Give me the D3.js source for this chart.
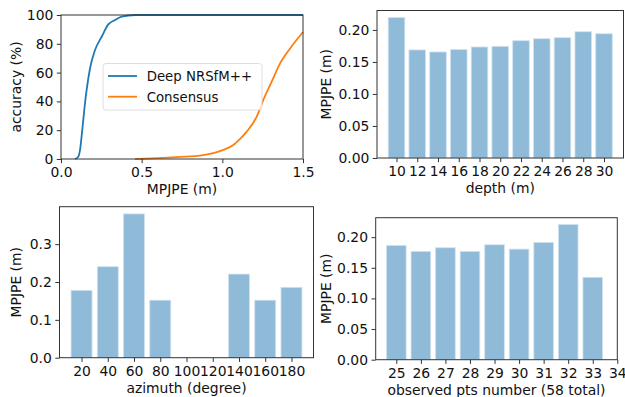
<!DOCTYPE html>
<html>
<head>
<meta charset="utf-8">
<script src="https://cdn.jsdelivr.net/npm/d3@7"></script>
<style>
  body { margin: 0; background: #fff; }
  svg, svg text { font-family: "DejaVu Sans", sans-serif; }
</style>
</head>
<body>
<svg id="fig" width="625" height="397"></svg>
<script>
// cumulative accuracy curves (MPJPE m, accuracy %)
const deepCurve = [
  [0.087, 0], [0.107, 1.6], [0.118, 6.3], [0.128, 16], [0.138, 27], [0.148, 38],
  [0.159, 48], [0.18, 63], [0.211, 75.7], [0.252, 84.9], [0.293, 93.5],
  [0.335, 96.5], [0.376, 98.8], [0.459, 100], [1.5, 100]
];
const consensusCurve = [
  [0.459, 0], [0.6, 0.6], [0.769, 1.6], [0.862, 2.3], [0.944, 4], [1.006, 6.3],
  [1.068, 9.7], [1.11, 14], [1.151, 19], [1.213, 29.4], [1.254, 41],
  [1.306, 53.7], [1.358, 66.4], [1.42, 76.8], [1.5, 88.2]
];

const depthCats = [10, 12, 14, 16, 18, 20, 22, 24, 26, 28, 30];
const depthErr = [0.2194, 0.1688, 0.1656, 0.1693, 0.1734, 0.1744, 0.1832, 0.1863, 0.1879, 0.1972, 0.1941];

const azimuthCats = [20, 40, 60, 80, 100, 120, 140, 160, 180];
const azimuthErr = [0.178, 0.2405, 0.380, 0.152, 0, 0, 0.221, 0.152, 0.186];

const ptsCats = [25, 26, 27, 28, 29, 30, 31, 32, 33];
const ptsTicks = [25, 26, 27, 28, 29, 30, 31, 32, 33, 34];
const ptsErr = [0.1865, 0.1768, 0.1827, 0.1768, 0.1876, 0.1805, 0.1914, 0.2207, 0.1345];

const svg = d3.select('#fig');
const font = '"DejaVu Sans", sans-serif';
const tickFont = 13.9;
const labelFont = 13.9;
const legendFont = 13.3;
const spineColor = '#333';

function drawAxes(g, x, y, xTicks, xFmt, yTicks, yFmt, xLabel, yLabel, yLabelX) {
    const [x0, x1] = x.range();
    const [y0, y1] = y.range();

    const xa = g.append('g')
        .attr('transform', `translate(0,${y0})`)
        .call(d3.axisBottom(x).tickValues(xTicks).tickFormat(xFmt).tickSize(4.2).tickPadding(4).tickSizeOuter(0));
    const ya = g.append('g')
        .attr('transform', `translate(${x0},0)`)
        .call(d3.axisLeft(y).tickValues(yTicks).tickFormat(yFmt).tickSize(4.2).tickPadding(3.5).tickSizeOuter(0));
    [xa, ya].forEach(a => {
        a.attr('font-family', font).attr('font-size', tickFont);
        a.select('.domain').remove();
        a.selectAll('line').attr('stroke', spineColor).attr('stroke-width', 1);
        a.selectAll('text').attr('fill', '#111');
    });

    // spines
    g.append('rect')
        .attr('x', x0).attr('y', y1)
        .attr('width', x1 - x0).attr('height', y0 - y1)
        .attr('fill', 'none')
        .attr('stroke', spineColor)
        .attr('stroke-width', 1);

    g.append('text')
        .attr('x', (x0 + x1) / 2)
        .attr('y', y0 + 35)
        .attr('text-anchor', 'middle')
        .attr('font-size', labelFont)
        .attr('fill', '#111')
        .text(xLabel);

    g.append('text')
        .attr('transform', `translate(${yLabelX},${(y0 + y1) / 2}) rotate(-90)`)
        .attr('text-anchor', 'middle')
        .attr('font-size', labelFont)
        .attr('fill', '#111')
        .text(yLabel);
}

function barPanel(cats, vals, ticks, barW, box, xDom, yFmt, yTicks, xLabel, yLabelX) {
    const g = svg.append('g');
    const x = d3.scaleLinear().domain(xDom).range([box.x0, box.x1]);
    const y = d3.scaleLinear().domain([0, d3.max(vals) * 1.05]).range([box.y0, box.y1]);

    g.selectAll('rect.bar')
        .data(cats.map((c, i) => ({c, v: vals[i]})).filter(d => d.v > 0))
        .enter()
        .append('rect')
        .attr('class', 'bar')
        .attr('x', d => x(d.c - barW / 2))
        .attr('width', d => x(d.c + barW / 2) - x(d.c - barW / 2))
        .attr('y', d => y(d.v))
        .attr('height', d => y(0) - y(d.v))
        .attr('fill', '#8fbbd9')
        .attr('stroke', '#d2e3f0')
        .attr('stroke-width', 0.8);

    drawAxes(g, x, y, ticks, d3.format('d'), yTicks, d3.format(yFmt), xLabel, 'MPJPE (m)', yLabelX);
}

// panel 1: accuracy curves
(function () {
    const g = svg.append('g');
    const x = d3.scaleLinear().domain([0, 1.5]).range([61, 303]);
    const y = d3.scaleLinear().domain([0, 100]).range([159, 15]);
    const line = d3.line().x(d => x(d[0])).y(d => y(d[1])).curve(d3.curveMonotoneX);

    g.append('path').datum(deepCurve)
        .attr('d', line).attr('fill', 'none')
        .attr('stroke', '#1f77b4').attr('stroke-width', 1.8);
    g.append('path').datum(consensusCurve)
        .attr('d', line).attr('fill', 'none')
        .attr('stroke', '#ff7f0e').attr('stroke-width', 1.8);

    drawAxes(g, x, y, [0, 0.5, 1.0, 1.5], d3.format('.1f'), [0, 20, 40, 60, 80, 100], d3.format('d'),
        'MPJPE (m)', 'accuracy (%)', 21);

    // legend
    const lg = g.append('g');
    lg.append('rect')
        .attr('x', 103).attr('y', 63.5).attr('width', 159).attr('height', 46.5)
        .attr('rx', 3).attr('fill', 'rgba(255,255,255,0.8)')
        .attr('stroke', '#d6d6d6').attr('stroke-width', 0.8);
    const entries = [['Deep NRSfM++', '#1f77b4'], ['Consensus', '#ff7f0e']];
    entries.forEach(([name, color], i) => {
        const cy = 76 + i * 20.7;
        lg.append('line')
            .attr('x1', 108).attr('x2', 137).attr('y1', cy).attr('y2', cy)
            .attr('stroke', color).attr('stroke-width', 1.8);
        lg.append('text')
            .attr('x', 146.7).attr('y', cy + 4.8)
            .attr('font-size', legendFont).attr('fill', '#111')
            .text(name);
    });
})();

// panel 2: depth
barPanel(depthCats, depthErr, depthCats, 1.6,
    {x0: 377, x1: 623.5, y0: 158, y1: 10.5}, [8.12, 31.88], '.2f', [0, 0.05, 0.1, 0.15, 0.2],
    'depth (m)', 331);

// panel 3: azimuth
barPanel(azimuthCats, azimuthErr, azimuthCats, 16,
    {x0: 59.5, x1: 313.5, y0: 357.7, y1: 206.7}, [3.2, 196.8], '.1f', [0, 0.1, 0.2, 0.3],
    'azimuth (degree)', 21);

// panel 4: observed points
barPanel(ptsCats, ptsErr, ptsTicks, 0.8,
    {x0: 375.7, x1: 617.3, y0: 359.7, y1: 217.7}, [24.16, 34], '.2f', [0, 0.05, 0.1, 0.15, 0.2],
    'observed pts number (58 total)', 331);
</script>
</body>
</html>
